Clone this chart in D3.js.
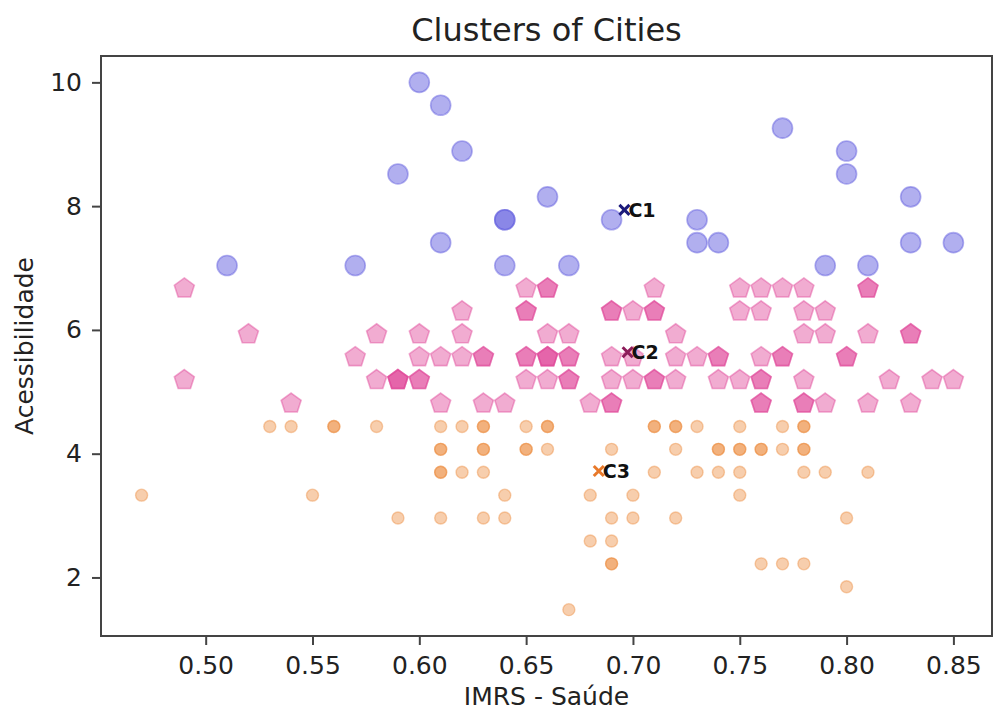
<!DOCTYPE html>
<html>
<head>
<meta charset="utf-8">
<script src="https://cdn.jsdelivr.net/npm/d3@7"></script>
<style>
  html, body { margin: 0; padding: 0; background: #fff; }
  svg { display: block; font-family: "DejaVu Sans", sans-serif; }
</style>
</head>
<body>
<svg id="chart" width="993" height="712"></svg>
<script>
// cluster 1 (high accessibility) - circles
const cluster1X = [0.60, 0.61, 0.62, 0.59, 0.66, 0.64, 0.64, 0.69, 0.61, 0.51, 0.57, 0.64,
  0.67, 0.73, 0.73, 0.74, 0.77, 0.80, 0.80, 0.83, 0.83, 0.85, 0.79, 0.81];
const cluster1Y = [10.00, 9.63, 8.89, 8.52, 8.15, 7.78, 7.78, 7.78, 7.41, 7.04, 7.04, 7.04,
  7.04, 7.78, 7.41, 7.41, 9.26, 8.89, 8.52, 8.15, 7.41, 7.41, 7.04, 7.04];

// cluster 2 (middle) - pentagons
const cluster2X = [
  0.49, 0.65, 0.66, 0.66, 0.71, 0.75, 0.76, 0.77, 0.78, 0.81, 0.81,
  0.62, 0.65, 0.65, 0.69, 0.69, 0.70, 0.71, 0.71, 0.75, 0.76, 0.78, 0.79,
  0.52, 0.58, 0.60, 0.62, 0.66, 0.67, 0.72, 0.78, 0.79, 0.81, 0.83, 0.83,
  0.57, 0.60, 0.61, 0.62, 0.63, 0.63, 0.65, 0.65, 0.66, 0.66, 0.66, 0.67, 0.67,
  0.69, 0.70, 0.72, 0.73, 0.74, 0.74, 0.76, 0.77, 0.77, 0.80, 0.80,
  0.49, 0.58, 0.59, 0.59, 0.59, 0.60, 0.60, 0.65, 0.66, 0.67, 0.67, 0.69,
  0.70, 0.71, 0.71, 0.72, 0.74, 0.75, 0.76, 0.76, 0.78, 0.82, 0.84, 0.85,
  0.54, 0.61, 0.63, 0.64, 0.68, 0.69, 0.69, 0.76, 0.76, 0.78, 0.78, 0.79, 0.81, 0.83];
const cluster2Y = [
  6.67, 6.67, 6.67, 6.67, 6.67, 6.67, 6.67, 6.67, 6.67, 6.67, 6.67,
  6.30, 6.30, 6.30, 6.30, 6.30, 6.30, 6.30, 6.30, 6.30, 6.30, 6.30, 6.30,
  5.93, 5.93, 5.93, 5.93, 5.93, 5.93, 5.93, 5.93, 5.93, 5.93, 5.93, 5.93,
  5.56, 5.56, 5.56, 5.56, 5.56, 5.56, 5.56, 5.56, 5.56, 5.56, 5.56, 5.56, 5.56,
  5.56, 5.56, 5.56, 5.56, 5.56, 5.56, 5.56, 5.56, 5.56, 5.56, 5.56,
  5.19, 5.19, 5.19, 5.19, 5.19, 5.19, 5.19, 5.19, 5.19, 5.19, 5.19, 5.19,
  5.19, 5.19, 5.19, 5.19, 5.19, 5.19, 5.19, 5.19, 5.19, 5.19, 5.19, 5.19,
  4.81, 4.81, 4.81, 4.81, 4.81, 4.81, 4.81, 4.81, 4.81, 4.81, 4.81, 4.81, 4.81, 4.81];

// cluster 3 (low accessibility) - small circles
const cluster3X = [
  0.53, 0.54, 0.56, 0.56, 0.58, 0.61, 0.62, 0.63, 0.63, 0.65, 0.66, 0.66,
  0.71, 0.71, 0.72, 0.72, 0.73, 0.75, 0.77, 0.78, 0.78,
  0.61, 0.61, 0.63, 0.63, 0.65, 0.65, 0.66, 0.69, 0.72, 0.74, 0.74, 0.75,
  0.75, 0.76, 0.76, 0.77, 0.78, 0.78,
  0.61, 0.61, 0.62, 0.63, 0.71, 0.73, 0.74, 0.75, 0.78, 0.79, 0.81,
  0.47, 0.55, 0.64, 0.68, 0.70, 0.75,
  0.59, 0.61, 0.63, 0.64, 0.69, 0.70, 0.72, 0.80,
  0.68, 0.69,
  0.69, 0.69, 0.76, 0.77, 0.78,
  0.80,
  0.67];
const cluster3Y = [
  4.44, 4.44, 4.44, 4.44, 4.44, 4.44, 4.44, 4.44, 4.44, 4.44, 4.44, 4.44,
  4.44, 4.44, 4.44, 4.44, 4.44, 4.44, 4.44, 4.44, 4.44,
  4.07, 4.07, 4.07, 4.07, 4.07, 4.07, 4.07, 4.07, 4.07, 4.07, 4.07, 4.07,
  4.07, 4.07, 4.07, 4.07, 4.07, 4.07,
  3.70, 3.70, 3.70, 3.70, 3.70, 3.70, 3.70, 3.70, 3.70, 3.70, 3.70,
  3.33, 3.33, 3.33, 3.33, 3.33, 3.33,
  2.96, 2.96, 2.96, 2.96, 2.96, 2.96, 2.96, 2.96,
  2.59, 2.59,
  2.22, 2.22, 2.22, 2.22, 2.22,
  1.85,
  1.48];

// centroids
const centroidNames = ["C1", "C2", "C3"];
const centroidX = [0.696, 0.6975, 0.684];
const centroidY = [7.94, 5.64, 3.72];

const xTicks = [0.50, 0.55, 0.60, 0.65, 0.70, 0.75, 0.80, 0.85];
const yTicks = [2, 4, 6, 8, 10];

const width = 993, height = 712;
const margin = { left: 101, right: 992, top: 56, bottom: 636 };

const svg = d3.select("#chart");

const x = d3.scaleLinear().domain([0.451, 0.869]).range([margin.left, 994]);
const y = d3.scaleLinear().domain([1.054, 10.426]).range([margin.bottom, margin.top]);

// custom marker shapes for d3.symbol
const pentagon = {
  draw(ctx, size) {
    const r = Math.sqrt(size / 2.3776);
    for (let i = 0; i < 5; i++) {
      const a = -Math.PI / 2 + i * 2 * Math.PI / 5;
      if (i === 0) ctx.moveTo(r * Math.cos(a), r * Math.sin(a));
      else ctx.lineTo(r * Math.cos(a), r * Math.sin(a));
    }
    ctx.closePath();
  }
};
const times = {
  draw(ctx, size) {
    const r = Math.sqrt(size) / 2;
    ctx.moveTo(-r, -r); ctx.lineTo(r, r);
    ctx.moveTo(-r, r); ctx.lineTo(r, -r);
  }
};

function zip(xs, ys) { return xs.map((v, i) => ({ x: v, y: ys[i] })); }

const plot = svg.append("g");

// cluster 1
plot.append("g").selectAll("path")
  .data(zip(cluster1X, cluster1Y))
  .join("path")
  .attr("d", d3.symbol().type(d3.symbolCircle).size(Math.PI * 10 * 10))
  .attr("transform", d => `translate(${x(d.x)},${y(d.y)})`)
  .attr("fill", "#6360e0").attr("fill-opacity", 0.5)
  .attr("stroke", "#6360e0").attr("stroke-opacity", 0.5).attr("stroke-width", 1.6);

// cluster 2
plot.append("g").selectAll("path")
  .data(zip(cluster2X, cluster2Y))
  .join("path")
  .attr("d", d3.symbol().type(pentagon).size(2.3776 * 10.5 * 10.5))
  .attr("transform", d => `translate(${x(d.x)},${y(d.y)})`)
  .attr("fill", "#e0489a").attr("fill-opacity", 0.45)
  .attr("stroke", "#e0489a").attr("stroke-opacity", 0.45).attr("stroke-width", 1.6);

// cluster 3
plot.append("g").selectAll("path")
  .data(zip(cluster3X, cluster3Y))
  .join("path")
  .attr("d", d3.symbol().type(d3.symbolCircle).size(Math.PI * 6 * 6))
  .attr("transform", d => `translate(${x(d.x)},${y(d.y)})`)
  .attr("fill", "#ec8a3c").attr("fill-opacity", 0.42)
  .attr("stroke", "#ec8a3c").attr("stroke-opacity", 0.42).attr("stroke-width", 1.4);

// centroids
const centroidColors = ["#1c1a7a", "#8c1c5a", "#e8792a"];
const cents = centroidNames.map((n, i) => ({ name: n, x: centroidX[i], y: centroidY[i], c: centroidColors[i] }));

plot.append("g").selectAll("path")
  .data(cents)
  .join("path")
  .attr("d", d3.symbol().type(times).size(100))
  .attr("transform", d => `translate(${x(d.x)},${y(d.y)})`)
  .attr("fill", "none")
  .attr("stroke", d => d.c)
  .attr("stroke-width", 3);

plot.append("g").selectAll("text")
  .data(cents)
  .join("text")
  .attr("x", d => x(d.x) + 4)
  .attr("y", d => y(d.y))
  .attr("dy", "0.36em")
  .attr("font-size", 19)
  .attr("font-weight", "bold")
  .attr("fill", "#111")
  .text(d => d.name);

// frame
svg.append("rect")
  .attr("x", margin.left).attr("y", margin.top)
  .attr("width", margin.right - margin.left)
  .attr("height", margin.bottom - margin.top)
  .attr("fill", "none").attr("stroke", "#444").attr("stroke-width", 2);

// axes
const xAxis = svg.append("g")
  .attr("transform", `translate(0,${margin.bottom})`)
  .call(d3.axisBottom(x).tickValues(xTicks).tickFormat(d3.format(".2f")).tickSize(9).tickPadding(11));
const yAxis = svg.append("g")
  .attr("transform", `translate(${margin.left},0)`)
  .call(d3.axisLeft(y).tickValues(yTicks).tickFormat(d3.format("d")).tickSize(9).tickPadding(10));

[xAxis, yAxis].forEach(g => {
  g.select(".domain").remove();
  g.selectAll(".tick line").attr("stroke", "#444").attr("stroke-width", 2);
  g.selectAll(".tick text").attr("font-size", 25).attr("fill", "#222")
    .attr("font-family", "DejaVu Sans, sans-serif");
});

// title and labels
svg.append("text")
  .attr("x", (margin.left + margin.right) / 2).attr("y", 41)
  .attr("text-anchor", "middle").attr("font-size", 32).attr("fill", "#222")
  .text("Clusters of Cities");

svg.append("text")
  .attr("x", (margin.left + margin.right) / 2).attr("y", 705)
  .attr("text-anchor", "middle").attr("font-size", 25).attr("fill", "#222")
  .text("IMRS - Saúde");

svg.append("text")
  .attr("transform", `translate(33,${(margin.top + margin.bottom) / 2}) rotate(-90)`)
  .attr("text-anchor", "middle").attr("font-size", 25).attr("fill", "#222")
  .text("Acessibilidade");
</script>
</body>
</html>
